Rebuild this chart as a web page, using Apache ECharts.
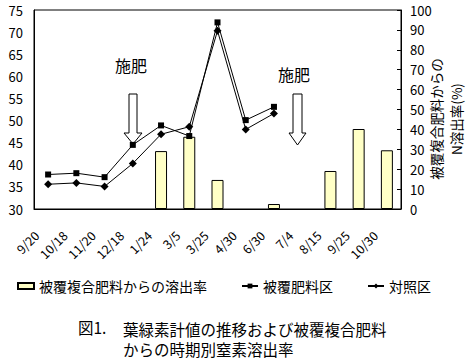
<!DOCTYPE html>
<html>
<head>
<meta charset="utf-8">
<script src="https://cdn.jsdelivr.net/npm/echarts@6/dist/echarts.min.js"></script>
<style>
html,body{margin:0;padding:0;background:#fff;}
#c{width:470px;height:360px;}
</style>
</head>
<body>
<div id="c"></div>
<script>
var categories = ['9/20','10/18','11/20','12/18','1/24','3/5','3/25','4/30','6/30','7/4','8/15','9/25','10/30'];
var releaseRate = [null,null,null,null,29.1,36.3,14.6,null,2.5,null,19.1,40.2,29.5];
var coatedPlot = [37.8,38.1,37.2,44.5,48.9,46.5,72.2,50.1,53.1,null,null,null,null];
var controlPlot = [35.6,35.9,35.1,40.3,46.9,48.6,70.3,48.0,51.6,null,null,null,null];
var leftTicks = {min:30, max:75, interval:5};
var rightTicks = {min:0, max:100, interval:10};
var rightAxisTitle = '被覆複合肥料からの\nN溶出率(%)';

var FONT = '"Noto Sans CJK JP", "Noto Sans", sans-serif';
var chart = echarts.init(document.getElementById('c'), null, {renderer:'svg'});

var option = {
  backgroundColor:'#fff',
  animation:false,
  textStyle:{fontFamily:FONT, color:'#000'},
  grid:{left:34, right:69, top:10, bottom:151, show:true, borderColor:'#000', borderWidth:1, backgroundColor:'transparent'},
  legend:{
    left:17, top:279, padding:0, itemWidth:16, itemHeight:6, itemGap:34,
    textStyle:{fontFamily:FONT, fontSize:14, color:'#000'},
    data:[{name:'被覆複合肥料からの溶出率', icon:'rect'}, '被覆肥料区', '対照区']
  },
  xAxis:{
    type:'category', data:categories, boundaryGap:true,
    axisLine:{lineStyle:{color:'#000', width:1}},
    axisTick:{inside:true, length:4, lineStyle:{color:'#000'}},
    axisLabel:{rotate:45, margin:13, padding:[0,16,0,0], fontSize:12.5, color:'#000', fontFamily:FONT, interval:0},
    splitLine:{show:false}
  },
  yAxis:[{
    type:'value', min:leftTicks.min, max:leftTicks.max, interval:leftTicks.interval,
    axisLine:{show:true, lineStyle:{color:'#000'}},
    axisTick:{show:false},
    axisLabel:{fontSize:13, color:'#000', margin:11, fontFamily:FONT},
    splitLine:{show:false}
  },{
    type:'value', position:'right', min:rightTicks.min, max:rightTicks.max, interval:rightTicks.interval,
    axisLine:{show:true, lineStyle:{color:'#000'}},
    axisTick:{show:true, inside:true, length:4, lineStyle:{color:'#000'}},
    axisLabel:{fontSize:13, color:'#000', margin:9, fontFamily:FONT},
    splitLine:{show:false}
  }],
  series:[{
    name:'被覆複合肥料からの溶出率', type:'bar', yAxisIndex:1, data:releaseRate, barWidth:12,
    itemStyle:{color:'#FFFFC6', borderColor:'#000', borderWidth:1}, z:1
  },{
    name:'被覆肥料区', type:'line', yAxisIndex:0, data:coatedPlot, symbol:'rect', symbolSize:6,
    color:'#000', lineStyle:{color:'#000', width:1}, itemStyle:{color:'#000'}, z:3
  },{
    name:'対照区', type:'line', yAxisIndex:0, data:controlPlot, symbol:'diamond', symbolSize:8,
    color:'#000', lineStyle:{color:'#000', width:1}, itemStyle:{color:'#000'}, z:3
  }],
  graphic:[
    {type:'text', x:446, y:119, rotation:Math.PI/2, style:{text:rightAxisTitle, font:'13.5px '+FONT, lineHeight:20, align:'center', verticalAlign:'middle', fill:'#000'}},
    {type:'text', left:115, top:57, style:{text:'施肥', font:'16px '+FONT, fill:'#000'}},
    {type:'polygon', shape:{points:[[129,94],[137,94],[137,133],[142,133],[133,144],[124,133],[129,133]]}, style:{fill:'#fff', stroke:'#000', lineWidth:1}},
    {type:'text', left:278, top:66, style:{text:'施肥', font:'16px '+FONT, fill:'#000'}},
    {type:'polygon', shape:{points:[[293,94],[302,94],[302,133],[306,133],[297.5,145],[289,133],[293,133]]}, style:{fill:'#fff', stroke:'#000', lineWidth:1}},
    {type:'text', left:78, top:319, style:{text:'図1.', font:'15.5px '+FONT, fill:'#000'}},
    {type:'text', left:123, top:319, style:{text:'葉緑素計値の推移および被覆複合肥料\nからの時期別窒素溶出率', font:'15.5px '+FONT, lineHeight:20, fill:'#000'}}
  ]
};
chart.setOption(option);
</script>
</body>
</html>
